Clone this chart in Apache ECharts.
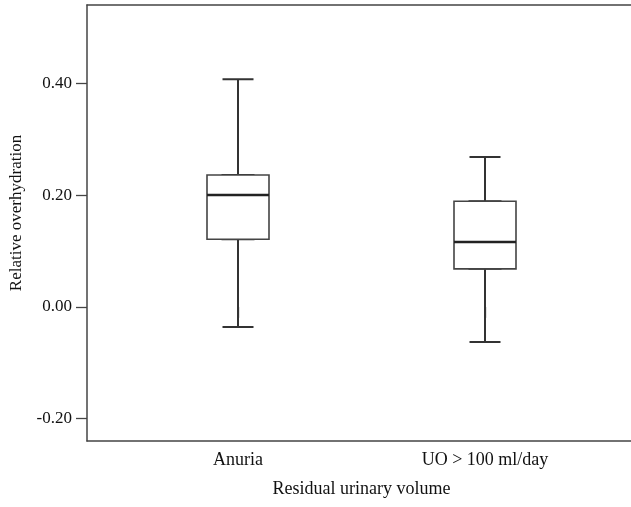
<!DOCTYPE html>
<html>
<head>
<meta charset="utf-8">
<script src="https://cdn.jsdelivr.net/npm/echarts@6/dist/echarts.min.js"></script>
<style>
  html, body { margin: 0; padding: 0; background: #fff; }
  #chart { width: 631px; height: 507px; }
</style>
</head>
<body>
<div id="chart"></div>
<script>
// groups on the x axis
const categories = ['Anuria', 'UO > 100 ml/day'];
// [lower whisker, Q1, median, Q3, upper whisker]
const anuria = [-0.036, 0.121, 0.200, 0.236, 0.407];
const uoOver100 = [-0.063, 0.068, 0.116, 0.189, 0.268];
const yTicks = [-0.2, 0, 0.2, 0.4];

const font = 'Liberation Serif';
const yMin = -0.24, yMax = 0.54;
const groups = [anuria, uoOver100];

// whiskers with short caps, box on top, heavier median on top of that
const whiskerData = groups;
const boxData = groups.map(d => [d[1], d[1], d[2], d[3], d[3]]);
const medianData = groups.map(d => [d[2], d[2], d[2], d[2], d[2]]);

const hiddenCat = { gridIndex: 1, type: 'category', data: categories, show: false };
const frameLine = { show: true, onZero: false, lineStyle: { color: '#444', width: 1.5 } };

const chart = echarts.init(document.getElementById('chart'));
chart.setOption({
  backgroundColor: '#fff',
  animation: false,
  grid: [
    // frame (left, top, bottom) + y axis
    { left: 87, top: 5, right: 0, bottom: 66, outerBoundsMode: 'none' },
    // boxes
    { left: 114.5, top: 5, width: 494, bottom: 66, outerBoundsMode: 'none' }
  ],
  xAxis: [
    {
      gridIndex: 0, type: 'value', min: 0, max: 1, position: 'bottom',
      axisLine: frameLine, axisTick: { show: false }, axisLabel: { show: false }, splitLine: { show: false }
    },
    {
      gridIndex: 1,
      type: 'category',
      data: categories,
      axisLine: { show: false },
      axisTick: { show: true, alignWithLabel: true, length: 11, lineStyle: { color: '#444', width: 1.3 } },
      axisLabel: { fontFamily: font, fontSize: 18, color: '#111', margin: 10 },
      name: 'Residual urinary volume',
      nameLocation: 'middle',
      nameGap: 39,
      nameTextStyle: { fontFamily: font, fontSize: 18, color: '#111' }
    },
    hiddenCat,
    hiddenCat,
    {
      gridIndex: 0, type: 'value', min: 0, max: 1, position: 'top',
      axisLine: frameLine, axisTick: { show: false }, axisLabel: { show: false }, splitLine: { show: false }
    }
  ],
  yAxis: [
    {
      gridIndex: 0,
      type: 'value',
      min: yMin,
      max: yMax,
      axisLine: frameLine,
      splitLine: { show: false },
      axisTick: { show: true, length: 11, customValues: yTicks, lineStyle: { color: '#444', width: 1.3 } },
      axisLabel: {
        fontFamily: font, fontSize: 17, color: '#111', margin: 15,
        customValues: yTicks,
        formatter: v => v.toFixed(2)
      },
      name: 'Relative overhydration',
      nameLocation: 'middle',
      nameGap: 62,
      nameTextStyle: { fontFamily: font, fontSize: 17, color: '#111', padding: [0, 0, 0, 20] }
    },
    { gridIndex: 1, type: 'value', min: yMin, max: yMax, show: false }
  ],
  series: [
    {
      type: 'boxplot',
      xAxisIndex: 1,
      yAxisIndex: 1,
      boxWidth: [31, 31],
      itemStyle: { color: '#fff', borderColor: '#333', borderWidth: 2 },
      data: whiskerData
    },
    {
      type: 'boxplot',
      xAxisIndex: 2,
      yAxisIndex: 1,
      boxWidth: [62, 62],
      itemStyle: { color: '#fff', borderColor: '#444', borderWidth: 1.6 },
      data: boxData
    },
    {
      type: 'boxplot',
      xAxisIndex: 3,
      yAxisIndex: 1,
      boxWidth: [62, 62],
      itemStyle: { color: 'none', borderColor: '#222', borderWidth: 2.4 },
      data: medianData
    }
  ]
});
</script>
</body>
</html>
